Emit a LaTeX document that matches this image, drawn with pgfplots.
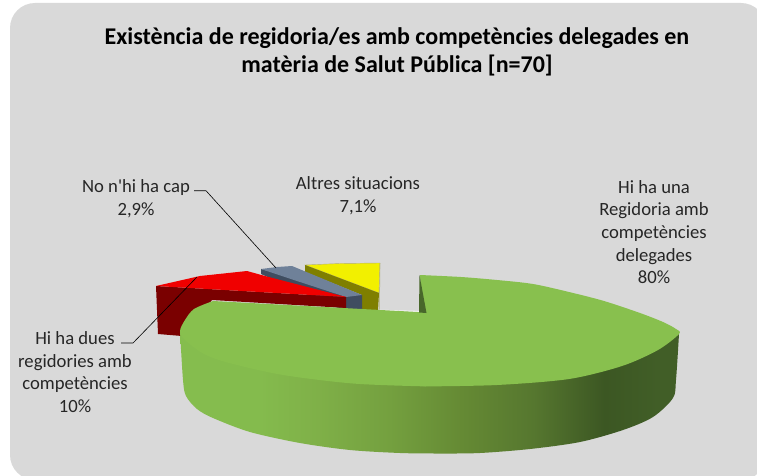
\documentclass[border=0pt]{standalone}
\usepackage{pgfplots}
\pgfplotsset{compat=1.18}
\usepackage{fontspec}
\setmainfont{Carlito}
\newfontfamily\plainfont{Carlito}
\definecolor{green0}{HTML}{85BD4E}
\definecolor{green1}{HTML}{84BB4D}
\definecolor{green2}{HTML}{7FB048}
\definecolor{green3}{HTML}{74A03F}
\definecolor{green4}{HTML}{658A34}
\definecolor{green5}{HTML}{56772F}
\definecolor{green6}{HTML}{3C5723}
\definecolor{green7}{HTML}{415E27}
\definecolor{bg}{HTML}{D9D9D9}
\definecolor{gtop}{HTML}{88C04E}
\definecolor{gwall}{HTML}{48672B}
\definecolor{rtop}{HTML}{F00000}
\definecolor{rside}{HTML}{7A0000}
\definecolor{btop}{HTML}{6F8199}
\definecolor{bside}{HTML}{3F4D60}
\definecolor{ytop}{HTML}{F2F000}
\definecolor{yside}{HTML}{7F7F00}
\pgfdeclarehorizontalshading{greenside}{100bp}{
 color(0bp)=(green0); color(25bp)=(green0); color(33bp)=(green1); color(38.8bp)=(green2);
 color(46bp)=(green3); color(53.2bp)=(green4); color(60.4bp)=(green5); color(67.5bp)=(green6);
 color(72.9bp)=(green7); color(75bp)=(green7); color(100bp)=(green7)}
\begin{document}
\begin{tikzpicture}
\begin{axis}[
  scale only axis, width=757pt, height=476pt,
  xmin=0, xmax=757, ymin=0, ymax=476, y dir=reverse,
  axis lines=none, clip=true, tick style={draw=none}, xtick=\empty, ytick=\empty]
% background
\addplot[fill=bg, draw=none, rounded corners=25pt] coordinates {(10,3) (766,3) (766,480) (10,480)} --cycle;
% yellow
\addplot[fill=ytop, draw=gray!70!yellow, line width=.4pt] coordinates {(305,265) (340,263.5) (380,263) (379,293)} --cycle;
\addplot[fill=yside, draw=none] coordinates {(305,265) (379,293) (378,311) (362,311) (362,295) (305,272)} --cycle;
\addplot[gray!70!yellow, line width=.5pt] coordinates {(380,263) (379.5,310)};
% light rim along the notch
\addplot[white!70!bg, line width=1.2pt] coordinates {(379,310.3) (420,311.5)};
% blue-grey
\addplot[fill=bside, draw=none] coordinates {(261,269) (346,293) (362,295) (362,311) (346,311) (330,305) (261,274)} --cycle;
\addplot[fill=btop, draw=none] coordinates {(261,269) (277,267) (292,266) (362,295) (346,297) (300,282)} --cycle;
% red
\addplot[fill=rside, draw=none] coordinates {(156,286) (346,297) (346,308) (212,300) (182,336) (158,334)} --cycle;
\addplot[fill=rtop, draw=none] coordinates {(156,286) (200,276) (247,271) (265,276) (346,297)} --cycle;
% green side
\addplot[shade, shading=greenside, draw=none, smooth] coordinates {
 (679,334) (676,380) (673,398) (653,417) (623,430) (580,442) (530,449) (480,453) (440,453.5) (400,453) (350,450) (300,443) (250,432) (213,418) (197,409) (186,396) (183,380) (180,331)};
% green top
\addplot[fill=gtop, draw=none, smooth] coordinates {
 (420,275) (461,277) (497,280) (533,284) (569,292) (604,301) (640,313) (663,322) (676,329) (679,334)
 (658,350) (622,366) (569,379) (497,385) (426,386.4)};
\addplot[fill=gtop, draw=none, smooth] coordinates {
 (426,386.4) (354,383.6) (283,375) (229,363) (204,354) (185,340) (180,331) (185,320) (194,309) (213,301)};
\addplot[fill=gtop, draw=none] coordinates {(213,301) (427,312.5) (426,386.4) (300,370) (220,340)} --cycle;
% green inner wall
\addplot[fill=gwall, draw=none] coordinates {(419.5,275) (426.5,313) (419,312.5)} --cycle;
% leaders
\addplot[black, line width=.6pt] coordinates {(194,190.7) (206,190.7) (276,268)};
\addplot[black, line width=.6pt] coordinates {(121,343) (133,343) (197,277)};
% text
\node[font=\fontsize{24}{28}\selectfont\bfseries, align=center, text=black] at (axis cs:397,52) {Existència de regidoria/es amb competències delegades en\\matèria de Salut Pública [n=70]};
\node[font=\fontsize{18.67}{22.7}\selectfont, align=center, text=black!85] at (axis cs:136,199) {No n{\plainfont '}hi ha cap\\2,9\%};
\node[font=\fontsize{18.67}{22.7}\selectfont, align=center, text=black!85] at (axis cs:358,196) {Altres situacions\\7,1\%};
\node[font=\fontsize{18.67}{22.7}\selectfont, align=center, text=black!85] at (axis cs:654,232) {Hi ha una\\Regidoria amb\\competències\\delegades\\80\%};
\node[font=\fontsize{18.67}{22.7}\selectfont, align=center, text=black!85] at (axis cs:75,372) {Hi ha dues\\regidories amb\\competències\\10\%};
\end{axis}
\pgfresetboundingbox
\useasboundingbox (0,0) rectangle (757pt,476pt);
\end{tikzpicture}
\end{document}
